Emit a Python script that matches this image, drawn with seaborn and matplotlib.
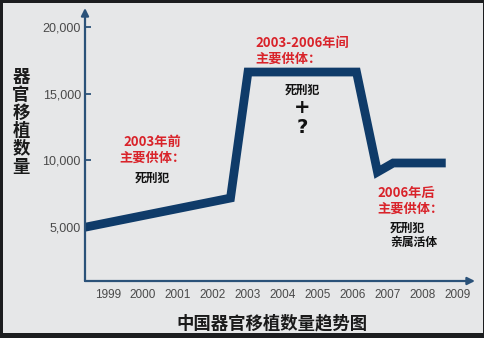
import matplotlib
matplotlib.use("Agg")
import matplotlib.pyplot as plt
from matplotlib.patches import Rectangle
import seaborn as sns
import pandas as pd

# ---- data ----
years = [1998.34, 2002.5, 2003.0, 2006.1, 2006.7, 2007.15, 2008.65]
counts = [4950, 7150, 16640, 16640, 9110, 9790, 9790]
year_ticks = [1999, 2000, 2001, 2002, 2003, 2004, 2005, 2006, 2007, 2008, 2009]
y_ticks = [5000, 10000, 15000, 20000]
y_tick_labels = ["5,000", "10,000", "15,000", "20,000"]
y_title = "器\n官\n移\n植\n数\n量"
x_title = "中国器官移植数量趋势图"
ann1_red = "2003年前\n主要供体："
ann1_black = "死刑犯"
ann2_red = "2003-2006年间\n主要供体："
ann2_black = "死刑犯"
ann3_red = "2006年后\n主要供体："
ann3_black = "死刑犯\n亲属活体"

df = pd.DataFrame({"year": years, "count": counts})

sns.set_theme(style="white")
plt.rcParams["font.family"] = ["Noto Sans CJK SC", "DejaVu Sans"]

W, H = 485, 338
fig = plt.figure(figsize=(W / 100, H / 100), dpi=100)
fig.patch.set_facecolor("#1c1d1f")
fig.patches.append(Rectangle((3 / W, 5 / H), (483 - 3) / W, (335 - 5) / H,
                             transform=fig.transFigure, facecolor="#e6e7e8",
                             edgecolor="none", zorder=-5))

# axes: x from 85 to 475 px, y from 281 to 8 px (top-down)
ax = fig.add_axes([85 / W, 1 - 281 / H, (475 - 85) / W, (281 - 8) / H])
ax.set_facecolor("none")
ax.set_zorder(2)

line_color = "#0f3b69"
axis_color = "#2b5279"

sns.lineplot(data=df, x="year", y="count", ax=ax, sort=False, color=line_color,
             linewidth=6.3, solid_joinstyle="miter", solid_capstyle="butt")

ax.set_xlim(1998.343, 2009.486)
ax.set_ylim(904, 21461)

for s in ax.spines.values():
    s.set_visible(False)

ax.annotate("", xy=(0, 1), xytext=(0, 0), xycoords="axes fraction",
            arrowprops=dict(arrowstyle="-|>", color=axis_color, lw=1.6,
                            mutation_scale=11, shrinkA=0, shrinkB=0), annotation_clip=False)
ax.annotate("", xy=(1, 0), xytext=(0, 0), xycoords="axes fraction",
            arrowprops=dict(arrowstyle="-|>", color=axis_color, lw=1.6,
                            mutation_scale=11, shrinkA=0, shrinkB=0), annotation_clip=False)

ax.set_yticks(y_ticks)
ax.set_yticklabels(y_tick_labels, fontfamily="Liberation Sans", fontsize=9, color="#4a4a4a")
ax.tick_params(axis="y", direction="in", length=4, width=1.3, color=axis_color, pad=3, left=True)
ax.yaxis.get_major_ticks()[0].tick1line.set_visible(False)

ax.set_xticks(year_ticks)
ax.set_xticklabels([str(y) for y in year_ticks], fontfamily="Liberation Sans",
                   fontsize=8.5, color="#4a4a4a")
ax.tick_params(axis="x", length=0, pad=6)

ax.set_xlabel("")
ax.set_ylabel("")

fig.text(21 / W, 1 - 121.5 / H, y_title, ha="center", va="center", fontsize=12.5,
         fontweight="bold", color="#1a1a1a", linespacing=1.0)
fig.text(272 / W, 1 - 323 / H, x_title, ha="center", va="center", fontsize=12.5,
         fontweight="bold", color="#1a1a1a")

red = "#d9232a"
ax.text(2000.26, 10806, ann1_red, ha="center", va="center", fontsize=9.5,
        fontweight="bold", color=red, linespacing=1.15)
ax.text(2000.26, 8660, ann1_black, ha="center", va="center", fontsize=8.5,
        fontweight="bold", color="#111111")

ax.text(2003.2, 18260, ann2_red, ha="left", va="center", fontsize=9.5,
        fontweight="bold", color=red, linespacing=1.15)
ax.text(2004.54, 15286, ann2_black, ha="center", va="center", fontsize=8.5,
        fontweight="bold", color="#111111")
ax.text(2004.54, 14006, "+", ha="center", va="center", fontsize=14,
        fontweight="bold", color="#111111", fontfamily="DejaVu Sans")
ax.text(2004.54, 12425, "?", ha="center", va="center", fontsize=14,
        fontweight="bold", color="#111111", fontfamily="DejaVu Sans")

ax.text(2006.686, 6965, ann3_red, ha="left", va="center", fontsize=9.5,
        fontweight="bold", color=red, linespacing=1.15)
ax.text(2007.057, 4367, ann3_black, ha="left", va="center", fontsize=8.5,
        fontweight="bold", color="#111111", linespacing=1.1)

fig.savefig("out.png", dpi=100, facecolor=fig.get_facecolor())
